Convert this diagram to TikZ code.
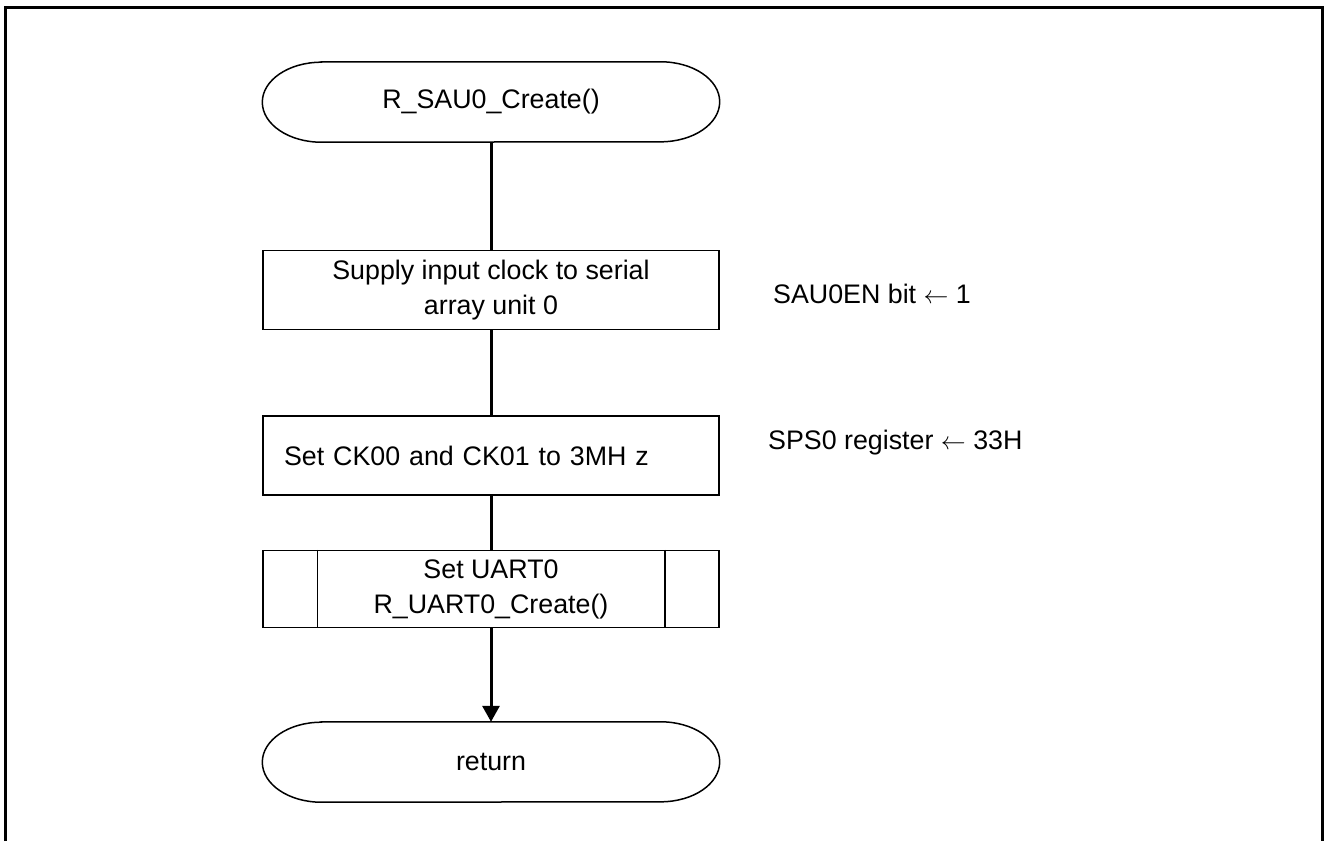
\documentclass[tikz,border=0pt]{standalone}
\usepackage{fontspec}
\setmainfont{Liberation Sans}
\usetikzlibrary{arrows.meta}

\begin{document}
\begin{tikzpicture}[x=1pt,y=-1pt,
    every node/.style={font=\fontsize{26.8}{35}\selectfont,inner sep=0pt},
    proc/.style={draw,line width=1.5pt,minimum width=456pt,minimum height=79pt,align=center},
    term/.style={minimum width=457pt,minimum height=80pt},
    flow/.style={line width=3pt}]
\useasboundingbox (0,0) rectangle (1325,841);

% frame round the chart, open at the bottom
\draw[line width=3pt] (5,841) -- (5,7.5) -- (1322.5,7.5) -- (1322.5,841);

% start of the function
\node[term] (start) at (491,102) {R\_SAU0\_Create()};
\draw[line width=1.5pt] ([xshift=59pt]start.north west) -- ([xshift=-59pt]start.north east)
    arc[start angle=90,end angle=-90,x radius=59pt,y radius=40pt]
    -- ([xshift=59pt]start.south west)
    arc[start angle=270,end angle=90,x radius=59pt,y radius=40pt] -- cycle;

% the steps
\node[proc] (supply) at (491,290) {Supply input clock to serial\\array unit 0};
\node[proc,align=left,text width=414pt] (clock) at (491,455.5) {Set CK00 and CK01 to 3MH z};
\node[proc,minimum height=77pt] (uart) at (491,589) {Set UART0\\R\_UART0\_Create()};
\draw[line width=1.5pt] ([xshift=55pt]uart.north west) -- ([xshift=55pt]uart.south west);
\draw[line width=1.5pt] ([xshift=-55pt]uart.north east) -- ([xshift=-55pt]uart.south east);

% end of the function
\node[term] (ret) at (491,762) {return};
\draw[line width=1.5pt] ([xshift=59pt]ret.north west) -- ([xshift=-59pt]ret.north east)
    arc[start angle=90,end angle=-90,x radius=59pt,y radius=40pt]
    -- ([xshift=59pt]ret.south west)
    arc[start angle=270,end angle=90,x radius=59pt,y radius=40pt] -- cycle;

% register settings
\node[anchor=west] (bitnote) at (773,294) {SAU0EN bit $\leftarrow$ 1};
\node[anchor=west] (regnote) at (768,443) {SPS0 register $\leftarrow$ 33H};

% flow lines
\draw[flow] (start) -- (supply);
\draw[flow] (supply) -- (clock);
\draw[flow] (clock) -- (uart);
\draw[flow,-{Triangle[length=16pt,width=17pt]}] (uart) -- (ret);

\end{tikzpicture}
\end{document}
